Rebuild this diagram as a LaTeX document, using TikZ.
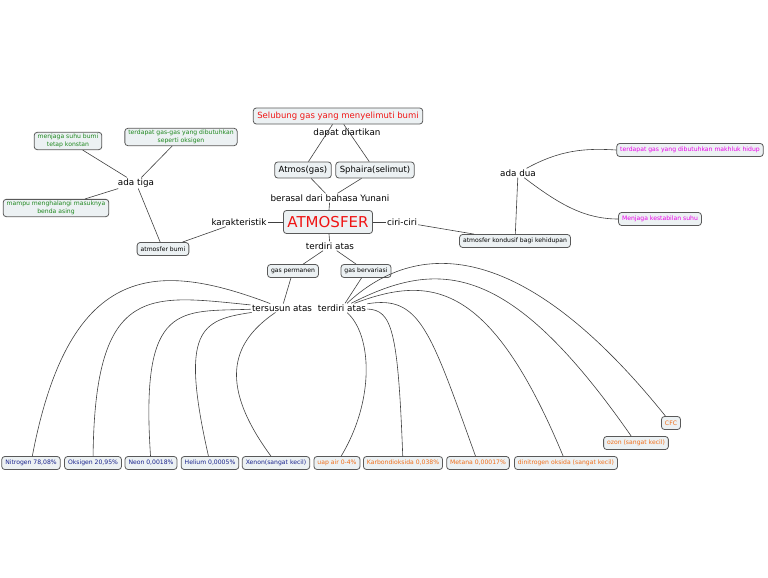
\documentclass[tikz,border=0pt]{standalone}
\usepackage{fontspec}
\setmainfont{DejaVu Sans}
\definecolor{boxfill}{RGB}{236,241,243}
\definecolor{cmred}{RGB}{240,20,20}
\definecolor{cmgreen}{RGB}{30,135,30}
\definecolor{cmpink}{RGB}{235,0,235}
\definecolor{cmblue}{RGB}{25,35,140}
\definecolor{cmorange}{RGB}{240,110,25}

\begin{document}
\begin{tikzpicture}[x=1pt, y=-1pt, line width=0.6pt,
  cpt/.style={draw=black!65, line width=0.8pt, fill=boxfill, rounded corners=3pt, inner xsep=4pt, inner ysep=2pt, minimum height=16pt, font=\fontsize{8.5}{10}\selectfont},
  sm/.style={cpt, minimum height=13pt, inner xsep=3.5pt, align=center, font=\fontsize{6.1}{7.4}\selectfont},
  lnk/.style={inner sep=1pt, font=\fontsize{8.8}{10}\selectfont},
  con/.style={draw=black!75, line width=0.6pt}]
\useasboundingbox (0,0) rectangle (768,578);
% centre
\node[cpt, text=cmred] (sel) at (338,116) {Selubung gas yang menyelimuti bumi};
\node[lnk] (dapat) at (347,133) {dapat diartikan};
\node[cpt] (atmos) at (303,170) {Atmos(gas)};
\node[cpt] (sphaira) at (375,170) {Sphaira(selimut)};
\node[lnk] (berasal) at (330,198) {berasal dari bahasa Yunani};
\node[cpt, text=cmred, font=\fontsize{15}{17}\selectfont, minimum height=23pt] (atm) at (328,222) {ATMOSFER};
\node[lnk] (karak) at (239,222) {karakteristik};
\node[lnk] (ciri) at (402,222) {ciri-ciri};
\node[lnk] (td1) at (330,246) {terdiri atas};
\node[sm] (gp) at (293,271) {gas permanen};
\node[sm] (gb) at (366,271) {gas bervariasi};
\node[lnk] (ts) at (282,308) {tersusun atas};
\node[lnk] (td2) at (342,308) {terdiri atas};
% left
\node[sm] (ab) at (163,249) {atmosfer bumi};
\node[lnk] (tiga) at (136,183) {ada tiga};
\node[sm, text=cmgreen] (jaga) at (68,141) {menjaga suhu bumi\\tetap konstan};
\node[sm, text=cmgreen] (oks1) at (181,137) {terdapat gas-gas yang dibutuhkan\\seperti oksigen};
\node[sm, text=cmgreen] (mampu) at (56,208) {mampu menghalangi masuknya\\benda asing};
% right
\node[sm] (kond) at (515,241) {atmosfer kondusif bagi kehidupan};
\node[lnk] (dua) at (518,173) {ada dua};
\node[sm, text=cmpink] (mh) at (690,150) {terdapat gas yang dibutuhkan makhluk hidup};
\node[sm, text=cmpink] (stab) at (660,219) {Menjaga kestabilan suhu};
% bottom row
\node[sm, text=cmblue] (nitro) at (31,463) {Nitrogen 78,08\%};
\node[sm, text=cmblue] (oks) at (93,463) {Oksigen 20,95\%};
\node[sm, text=cmblue] (neon) at (151,463) {Neon 0,0018\%};
\node[sm, text=cmblue] (hel) at (210,463) {Helium 0,0005\%};
\node[sm, text=cmblue] (xen) at (276,463) {Xenon(sangat kecil)};
\node[sm, text=cmorange] (uap) at (337,463) {uap air 0-4\%};
\node[sm, text=cmorange] (karb) at (403,463) {Karbondioksida 0,038\%};
\node[sm, text=cmorange] (met) at (478,463) {Metana 0,00017\%};
\node[sm, text=cmorange] (dino) at (566,463) {dinitrogen oksida (sangat kecil)};
\node[sm, text=cmorange] (ozon) at (636,443) {ozon (sangat kecil)};
\node[sm, text=cmorange] (cfc) at (671,423) {CFC};
% links
\draw[con] (atmos)--(sel); \draw[con] (sphaira)--(sel);
\draw[con] (atmos)--(berasal); \draw[con] (sphaira)--(berasal); \draw[con] (berasal)--(atm);
\draw[con] (atm)--(karak); \draw[con] (karak)--(ab); \draw[con] (ab)--(tiga);
\draw[con] (tiga)--(jaga); \draw[con] (tiga)--(oks1); \draw[con] (tiga)--(mampu);
\draw[con] (atm)--(ciri); \draw[con] (ciri)--(kond); \draw[con] (kond)--(dua);
\draw[con] (dua) .. controls (560,150) and (585,148) .. (mh.west);
\draw[con] (dua) .. controls (560,205) and (585,219) .. (stab.west);
\draw[con] (atm)--(td1); \draw[con] (td1)--(gp); \draw[con] (td1)--(gb);
\draw[con] (gp)--(ts); \draw[con] (gb)--(td2);
\draw[con] (ts) .. controls (160,262) and (70,258) .. (nitro);
\draw[con] (ts) .. controls (150,295) and (95,282) .. (oks);
\draw[con] (ts) .. controls (180,312) and (140,300) .. (neon);
\draw[con] (ts) .. controls (200,320) and (180,330) .. (hel);
\draw[con] (ts) .. controls (235,340) and (215,380) .. (xen);
\draw[con] (td2) .. controls (372,335) and (375,400) .. (uap);
\draw[con] (td2) .. controls (392,310) and (398,330) .. (karb);
\draw[con] (td2) .. controls (420,295) and (430,330) .. (met);
\draw[con] (td2) .. controls (430,275) and (490,280) .. (dino);
\draw[con] (td2) .. controls (440,258) and (510,262) .. (ozon);
\draw[con] (td2) .. controls (415,240) and (520,235) .. (cfc);
\end{tikzpicture}
\end{document}
